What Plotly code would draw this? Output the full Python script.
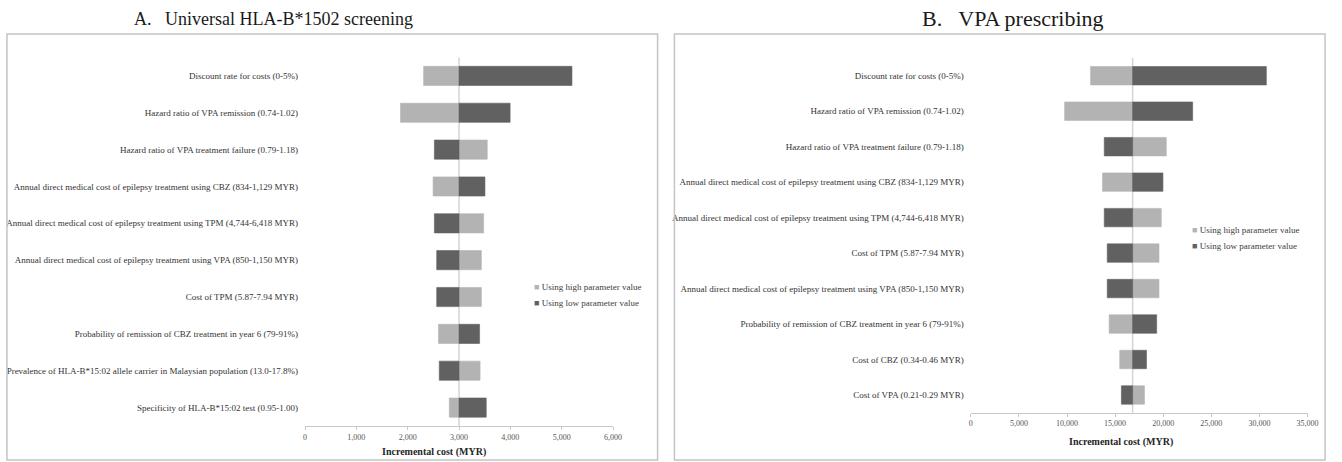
import plotly.graph_objects as go

W, H = 1342, 462

# ---- Panel A: universal HLA-B*1502 screening ----
a_params = [
    "Discount rate for costs (0-5%)",
    "Hazard ratio of VPA remission (0.74-1.02)",
    "Hazard ratio of VPA treatment failure (0.79-1.18)",
    "Annual direct medical cost of epilepsy treatment using CBZ (834-1,129 MYR)",
    "Annual direct medical cost of epilepsy treatment using TPM (4,744-6,418 MYR)",
    "Annual direct medical cost of epilepsy treatment using VPA (850-1,150 MYR)",
    "Cost of TPM (5.87-7.94 MYR)",
    "Probability of remission of CBZ treatment in year 6 (79-91%)",
    "Prevalence of HLA-B*15:02 allele carrier in Malaysian population (13.0-17.8%)",
    "Specificity of HLA-B*15:02 test (0.95-1.00)",
]
a_base = 3000
a_high = [2310, 1860, 3550, 2495, 3480, 3435, 3435, 2600, 3410, 2810]
a_low = [5200, 3995, 2520, 3505, 2520, 2565, 2565, 3400, 2615, 3530]
a_ticks = [0, 1000, 2000, 3000, 4000, 5000, 6000]

# ---- Panel B: VPA prescribing ----
b_params = [
    "Discount rate for costs (0-5%)",
    "Hazard ratio of VPA remission (0.74-1.02)",
    "Hazard ratio of VPA treatment failure (0.79-1.18)",
    "Annual direct medical cost of epilepsy treatment using CBZ (834-1,129 MYR)",
    "Annual direct medical cost of epilepsy treatment using TPM (4,744-6,418 MYR)",
    "Cost of TPM (5.87-7.94 MYR)",
    "Annual direct medical cost of epilepsy treatment using VPA (850-1,150 MYR)",
    "Probability of remission of CBZ treatment in year 6 (79-91%)",
    "Cost of CBZ (0.34-0.46 MYR)",
    "Cost of VPA (0.21-0.29 MYR)",
]
b_base = 16820
b_high = [12450, 9750, 20320, 13690, 19800, 19560, 19560, 14380, 15480, 18050]
b_low = [30720, 23060, 13870, 19970, 13870, 14180, 14180, 19320, 18260, 15650]
b_ticks = [0, 5000, 10000, 15000, 20000, 25000, 30000, 35000]

series_names = ["Using high parameter value", "Using low parameter value"]
LIGHT = "#b3b3b3"
DARK = "#616161"
SERIF = "Liberation Serif, Times New Roman, serif"


def px_x(p):
    return p / W


def px_y(p):
    return 1 - p / H


fig = go.Figure()


def add_panel(params, base, high, low, xa, ya):
    for name, vals, col in ((series_names[0], high, LIGHT), (series_names[1], low, DARK)):
        fig.add_trace(go.Bar(
            y=params, x=[v - base for v in vals], base=base, orientation="h",
            name=name, marker=dict(color=col, line=dict(width=0.6, color=col)),
            width=0.52, xaxis=xa, yaxis=ya, showlegend=False,
        ))


add_panel(a_params, a_base, a_high, a_low, "x", "y")
add_panel(b_params, b_base, b_high, b_low, "x2", "y2")

xaxis_common = dict(
    showgrid=False, zeroline=False, showline=True, linecolor="#c8c8c8", linewidth=1.2,
    ticks="outside", ticklen=3, tickcolor="#c8c8c8", tickformat=",d",
    tickfont=dict(family=SERIF, size=8, color="#555555"),
)
yaxis_common = dict(
    showgrid=False, zeroline=False, showline=False, autorange="reversed",
    ticks="", ticklabelstandoff=6,
    tickfont=dict(family=SERIF, size=9, color="#333333"),
)

fig.update_layout(
    width=W, height=H, margin=dict(l=0, r=0, t=0, b=0),
    paper_bgcolor="white", plot_bgcolor="white",
    barmode="overlay", showlegend=False,
    xaxis=dict(domain=[px_x(306), px_x(617)], range=[0, 6000], tickvals=a_ticks,
               anchor="y", **xaxis_common),
    yaxis=dict(domain=[px_y(426), px_y(57.5)], anchor="x", **yaxis_common),
    xaxis2=dict(domain=[px_x(978.3), px_x(1318.3)], range=[0, 35000], tickvals=b_ticks,
                anchor="y2", **xaxis_common),
    yaxis2=dict(domain=[px_y(412.7), px_y(58)], anchor="x2", **yaxis_common),
)

# Base-case reference lines
for xr, yr, b in (("x", "y domain", a_base), ("x2", "y2 domain", b_base)):
    fig.add_shape(type="line", xref=xr, yref=yr, x0=b, x1=b, y0=0, y1=1.0,
                  line=dict(color="#d4d4d4", width=1.5), layer="below")

# Panel frames
for x0, x1 in ((5, 662), (679, 1336)):
    fig.add_shape(type="rect", xref="paper", yref="paper",
                  x0=px_x(x0), x1=px_x(x1), y0=px_y(460), y1=px_y(34),
                  line=dict(color="#c4c4c4", width=1.5))


def text_at(text, x, y, size, color="#1a1a1a", xanchor="center"):
    fig.add_annotation(text=text, xref="paper", yref="paper", x=px_x(x), y=px_y(y),
                       xanchor=xanchor, yanchor="middle", showarrow=False,
                       font=dict(family=SERIF, size=size, color=color))


# Panel titles
text_at("A.\u00a0\u00a0 Universal HLA-B*1502 screening", 274, 19, 18)
text_at("B.\u00a0\u00a0 VPA prescribing", 1021, 19, 22)

# Axis titles
text_at("<b>Incremental cost (MYR)</b>", 436.5, 452, 10, "#262626")
text_at("<b>Incremental cost (MYR)</b>", 1130, 442, 10, "#262626")

# Legends (one per panel)
for lx, ly in ((535, 287), (1199.5, 230)):
    for i, (name, col) in enumerate(zip(series_names, (LIGHT, DARK))):
        text_at(f'<span style="color:{col}">\u25a0</span> {name}', lx, ly + 16 * i, 9,
                "#404040", xanchor="left")

fig.write_html("out.html")
